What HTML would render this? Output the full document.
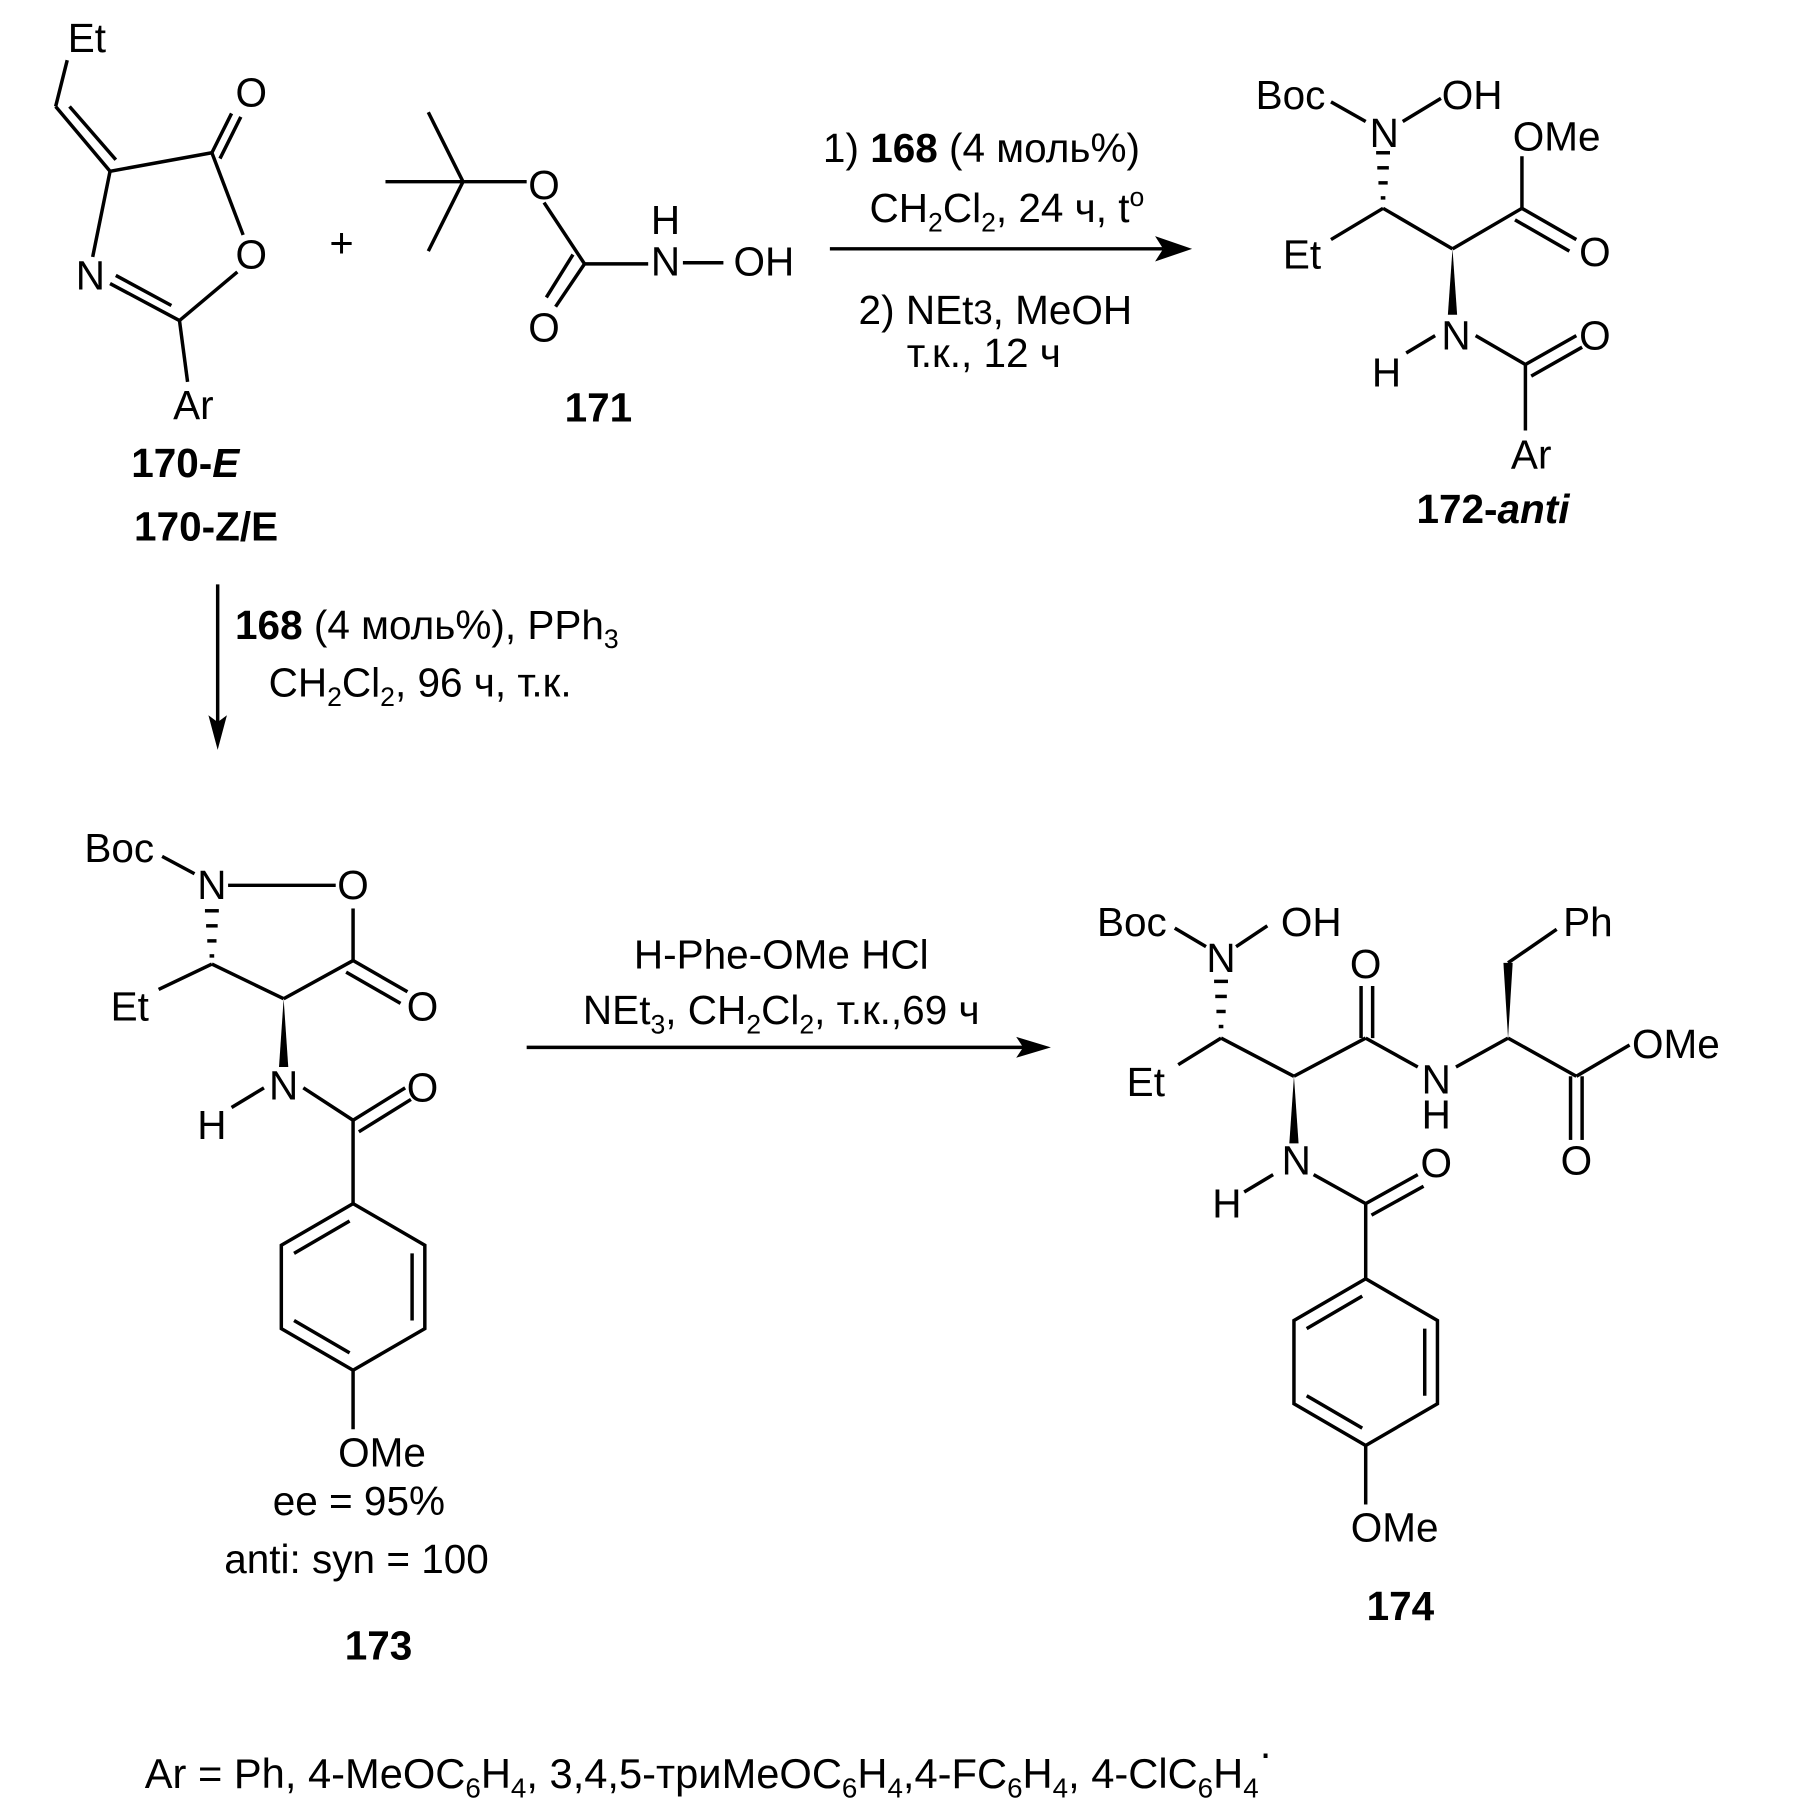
<!DOCTYPE html>
<html><head><meta charset="utf-8"><style>html,body{margin:0;padding:0;background:#fff}svg{display:block}</style></head><body>
<svg xmlns="http://www.w3.org/2000/svg" width="1794" height="1810" viewBox="0 0 1550 1564">
<rect width="1550" height="1564" fill="#fff"/>
<g stroke="#000" stroke-width="3" fill="none" stroke-linecap="butt">
<line x1="58" y1="52" x2="48" y2="92"/>
<line x1="48" y1="92" x2="95" y2="148"/>
<line x1="60" y1="92" x2="100" y2="138"/>
<line x1="95" y1="148" x2="183" y2="132"/>
<line x1="183" y1="132" x2="200" y2="98"/>
<line x1="190" y1="137" x2="208" y2="101"/>
<line x1="183" y1="132" x2="210" y2="203"/>
<line x1="205" y1="235" x2="155" y2="277"/>
<line x1="155" y1="277" x2="95" y2="245"/>
<line x1="148" y1="264" x2="100" y2="238"/>
<line x1="95" y1="148" x2="80" y2="222"/>
<line x1="155" y1="277" x2="162" y2="330"/>
<line x1="400" y1="157" x2="370" y2="97"/>
<line x1="400" y1="157" x2="370" y2="217"/>
<line x1="400" y1="157" x2="333" y2="157"/>
<line x1="400" y1="157" x2="455" y2="157"/>
<line x1="470" y1="175" x2="505" y2="228"/>
<line x1="505" y1="228" x2="480" y2="265"/>
<line x1="495" y1="220" x2="472" y2="257"/>
<line x1="505" y1="228" x2="560" y2="228"/>
<line x1="590" y1="227" x2="625" y2="227"/>
<line x1="1150" y1="88" x2="1180" y2="105"/>
<line x1="1212" y1="105" x2="1245" y2="85"/>
<line x1="1150" y1="207" x2="1195" y2="180"/>
<line x1="1195" y1="180" x2="1255" y2="215"/>
<line x1="1255" y1="215" x2="1315" y2="180"/>
<line x1="1315" y1="180" x2="1315" y2="135"/>
<line x1="1315" y1="180" x2="1362" y2="207"/>
<line x1="1309" y1="190" x2="1356" y2="217"/>
<line x1="1215" y1="305" x2="1240" y2="290"/>
<line x1="1275" y1="290" x2="1318" y2="315"/>
<line x1="1318" y1="315" x2="1362" y2="290"/>
<line x1="1323" y1="325" x2="1367" y2="300"/>
<line x1="1318" y1="315" x2="1318" y2="372"/>
<line x1="188" y1="505" x2="188" y2="625"/>
<line x1="140" y1="740" x2="168" y2="755"/>
<line x1="197" y1="765" x2="290" y2="765"/>
<line x1="137" y1="855" x2="183" y2="833"/>
<line x1="183" y1="833" x2="245" y2="863"/>
<line x1="245" y1="863" x2="305" y2="830"/>
<line x1="305" y1="830" x2="305" y2="785"/>
<line x1="305" y1="830" x2="352" y2="857"/>
<line x1="299" y1="840" x2="346" y2="867"/>
<line x1="200" y1="957" x2="228" y2="940"/>
<line x1="262" y1="940" x2="305" y2="968"/>
<line x1="305" y1="968" x2="350" y2="940"/>
<line x1="310" y1="978" x2="355" y2="950"/>
<line x1="305" y1="968" x2="305" y2="1040"/>
<polygon points="305,1040 367,1076 367,1148 305,1184 243,1148 243,1076"/>
<line x1="356" y1="1083" x2="356" y2="1141"/>
<line x1="254" y1="1083" x2="302" y2="1055"/>
<line x1="254" y1="1141" x2="302" y2="1169"/>
<line x1="305" y1="1184" x2="305" y2="1235"/>
<line x1="455" y1="905" x2="885" y2="905"/>
<line x1="1015" y1="802" x2="1042" y2="818"/>
<line x1="1068" y1="818" x2="1095" y2="800"/>
<line x1="1018" y1="920" x2="1055" y2="897"/>
<line x1="1055" y1="897" x2="1118" y2="930"/>
<line x1="1118" y1="930" x2="1180" y2="897"/>
<line x1="1176" y1="897" x2="1176" y2="852"/>
<line x1="1186" y1="897" x2="1186" y2="852"/>
<line x1="1180" y1="897" x2="1225" y2="922"/>
<line x1="1258" y1="922" x2="1303" y2="897"/>
<line x1="1303" y1="832" x2="1345" y2="803"/>
<line x1="1303" y1="897" x2="1362" y2="930"/>
<line x1="1362" y1="930" x2="1408" y2="903"/>
<line x1="1357" y1="930" x2="1357" y2="985"/>
<line x1="1367" y1="930" x2="1367" y2="985"/>
<line x1="1075" y1="1030" x2="1100" y2="1015"/>
<line x1="1135" y1="1015" x2="1180" y2="1040"/>
<line x1="1180" y1="1040" x2="1225" y2="1015"/>
<line x1="1185" y1="1050" x2="1230" y2="1025"/>
<line x1="1180" y1="1040" x2="1180" y2="1105"/>
<polygon points="1180,1105 1242,1141 1242,1213 1180,1249 1118,1213 1118,1141"/>
<line x1="1231" y1="1148" x2="1231" y2="1206"/>
<line x1="1129" y1="1148" x2="1177" y2="1120"/>
<line x1="1129" y1="1206" x2="1177" y2="1234"/>
<line x1="1180" y1="1249" x2="1180" y2="1300"/>
</g>
<line x1="717" y1="215" x2="1005" y2="215" stroke="#000" stroke-width="3"/>
<polygon points="1030,215 998,204 1005,215 998,226" fill="#000"/>
<polygon points="188,648 180,618 188,624 196,618" fill="#000"/>
<polygon points="908,905 878,896 884,905 878,914" fill="#000"/>
<polygon points="1255,215 1251,272 1259,272" fill="#000"/>
<polygon points="245,863 241,922 249,922" fill="#000"/>
<polygon points="1118,930 1114,988 1122,988" fill="#000"/>
<polygon points="1303,897 1299,832 1307,832" fill="#000"/>
<g stroke="#000" stroke-width="3">
<line x1="1189" y1="132" x2="1201" y2="132"/><line x1="1190" y1="145" x2="1200" y2="145"/><line x1="1191" y1="158" x2="1199" y2="158"/><line x1="1193" y1="171" x2="1197" y2="171"/>
<line x1="177" y1="787" x2="189" y2="787"/><line x1="178" y1="800" x2="188" y2="800"/><line x1="179" y1="813" x2="187" y2="813"/><line x1="181" y1="826" x2="185" y2="826"/>
<line x1="1049" y1="848" x2="1061" y2="848"/><line x1="1050" y1="861" x2="1060" y2="861"/><line x1="1051" y1="874" x2="1059" y2="874"/><line x1="1053" y1="887" x2="1057" y2="887"/>
</g>
<g font-family="Liberation Sans, DejaVu Sans, sans-serif" font-size="35" fill="#000" text-anchor="middle">
<text x="75" y="45">Et</text>
<text x="217" y="92">O</text>
<text x="217" y="232">O</text>
<text x="78" y="250">N</text>
<text x="167" y="362">Ar</text>
<text x="160" y="412" font-weight="bold">170-<tspan font-style="italic">E</tspan></text>
<text x="178" y="467" font-weight="bold">170-Z/E</text>
<text x="295" y="222" font-size="36">+</text>
<text x="470" y="172">O</text>
<text x="470" y="295">O</text>
<text x="575" y="202">H</text>
<text x="575" y="238">N</text>
<text x="660" y="238">OH</text>
<text x="517" y="364" font-weight="bold">171</text>
<text x="848" y="140">1) <tspan font-weight="bold">168</tspan> (4 моль%)</text>
<text x="870" y="192">CH<tspan font-size="23" dy="8">2</tspan><tspan dy="-8">Cl</tspan><tspan font-size="23" dy="8">2</tspan><tspan dy="-8">, 24 ч, t</tspan><tspan font-size="23" dy="-14">o</tspan></text>
<text x="860" y="280">2) NEt<tspan font-size="30">3</tspan>, MeOH</text>
<text x="850" y="317">т.к.,  12 ч</text>
<text x="1115" y="94">Boc</text>
<text x="1196" y="127">N</text>
<text x="1272" y="94">OH</text>
<text x="1345" y="130">OMe</text>
<text x="1125" y="232">Et</text>
<text x="1378" y="230">O</text>
<text x="1258" y="302">N</text>
<text x="1198" y="334">H</text>
<text x="1378" y="302">O</text>
<text x="1323" y="405">Ar</text>
<text x="1290" y="452" font-weight="bold">172-<tspan font-style="italic">anti</tspan></text>
<text x="203" y="552" text-anchor="start"><tspan font-weight="bold">168</tspan> (4 моль%), PPh<tspan font-size="23" dy="8">3</tspan></text>
<text x="232" y="602" text-anchor="start">CH<tspan font-size="23" dy="8">2</tspan><tspan dy="-8">Cl</tspan><tspan font-size="23" dy="8">2</tspan><tspan dy="-8">, 96 ч, т.к.</tspan></text>
<text x="103" y="745">Boc</text>
<text x="183" y="777">N</text>
<text x="305" y="777">O</text>
<text x="112" y="882">Et</text>
<text x="365" y="882">O</text>
<text x="245" y="950">N</text>
<text x="183" y="984">H</text>
<text x="365" y="952">O</text>
<text x="330" y="1267">OMe</text>
<text x="310" y="1309">ee = 95%</text>
<text x="308" y="1359">anti: syn = 100</text>
<text x="327" y="1434" font-weight="bold">173</text>
<text x="675" y="837">H-Phe-OMe  HCl</text>
<text x="675" y="885">NEt<tspan font-size="23" dy="8">3</tspan><tspan dy="-8">, CH</tspan><tspan font-size="23" dy="8">2</tspan><tspan dy="-8">Cl</tspan><tspan font-size="23" dy="8">2</tspan><tspan dy="-8">, т.к.,69 ч</tspan></text>
<text x="978" y="809">Boc</text>
<text x="1055" y="840">N</text>
<text x="1133" y="809">OH</text>
<text x="1180" y="845">O</text>
<text x="1372" y="809">Ph</text>
<text x="990" y="947">Et</text>
<text x="1241" y="945">N</text>
<text x="1241" y="975">H</text>
<text x="1448" y="914">OMe</text>
<text x="1362" y="1015">O</text>
<text x="1120" y="1015">N</text>
<text x="1060" y="1052">H</text>
<text x="1241" y="1017">O</text>
<text x="1205" y="1332">OMe</text>
<text x="1210" y="1400" font-weight="bold">174</text>
<text x="125" y="1545" text-anchor="start" font-size="36">Ar = Ph, 4-MeOC<tspan font-size="24" dy="8">6</tspan><tspan dy="-8">H</tspan><tspan font-size="24" dy="8">4</tspan><tspan dy="-8">,  3,4,5-триMeOC</tspan><tspan font-size="24" dy="8">6</tspan><tspan dy="-8">H</tspan><tspan font-size="24" dy="8">4</tspan><tspan dy="-8">,4-FC</tspan><tspan font-size="24" dy="8">6</tspan><tspan dy="-8">H</tspan><tspan font-size="24" dy="8">4</tspan><tspan dy="-8">, 4-ClC</tspan><tspan font-size="24" dy="8">6</tspan><tspan dy="-8">H</tspan><tspan font-size="24" dy="8">4</tspan><tspan dy="-26">·</tspan></text>
</g>
</svg>
</body></html>
